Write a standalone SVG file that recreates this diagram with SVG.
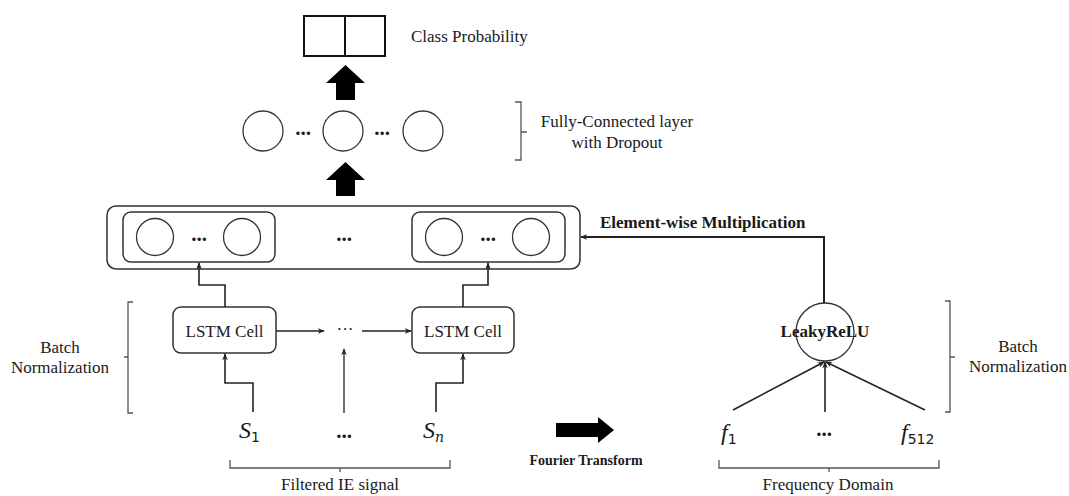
<svg xmlns="http://www.w3.org/2000/svg" width="1069" height="496" viewBox="0 0 1069 496">
<defs>
<style>
text{font-family:'Liberation Serif',serif}
.t{font-family:'Liberation Serif',serif;font-size:17px;fill:#1a1a1a}
.b{font-weight:bold}
.m{font-family:'Liberation Serif',serif;font-style:italic;font-size:24px;fill:#1a1a1a}
.sub{font-family:'DejaVu Sans',sans-serif;font-size:14px}
.box{fill:#fff;stroke:#333;stroke-width:1.5}
.c{fill:#fff;stroke:#333;stroke-width:1.3}
.ln{fill:none;stroke:#222;stroke-width:1.6}
.br{fill:none;stroke:#555;stroke-width:1.3}
.dots{font-family:'Liberation Serif',serif;font-size:21px;font-weight:bold;fill:#1a1a1a;text-anchor:middle}
</style>
<marker id="ah" viewBox="0 0 10 10" refX="9" refY="5" markerWidth="7" markerHeight="7" markerUnits="userSpaceOnUse" orient="auto">
<path d="M0,1 L10,5 L0,9 L3,5 z" fill="#222"/>
</marker>
</defs>
<rect width="1069" height="496" fill="#fff"/>

<g id="class-prob">
<rect x="304" y="16" width="81" height="40" fill="#fff" stroke="#111" stroke-width="2"/>
<line x1="345" y1="16" x2="345" y2="56" stroke="#111" stroke-width="2"/>
<text class="t" x="411" y="42">Class Probability</text>
</g>

<g id="fc-layer">
<circle class="c" cx="263" cy="131" r="20"/>
<circle class="c" cx="343" cy="131" r="20"/>
<circle class="c" cx="423" cy="131" r="20"/>
<text class="dots" x="303" y="135">...</text>
<text class="dots" x="382" y="135">...</text>
<path class="br" d="M515,102 H521 V160 H515 M521,132 H527"/>
<text class="t" x="617" y="127" text-anchor="middle">Fully-Connected layer</text>
<text class="t" x="617" y="148" text-anchor="middle">with Dropout</text>
</g>

<g id="lstm-output">
<rect class="box" x="107" y="206" width="473" height="63" rx="9"/>
<rect class="box" x="123" y="212" width="152" height="50" rx="8"/>
<rect class="box" x="412" y="212" width="153" height="50" rx="8"/>
<circle class="c" cx="155" cy="237" r="18.5"/>
<circle class="c" cx="242" cy="237" r="18.5"/>
<circle class="c" cx="444" cy="237" r="18.5"/>
<circle class="c" cx="531" cy="237" r="18.5"/>
<text class="dots" x="199" y="241">...</text>
<text class="dots" x="344" y="241">...</text>
<text class="dots" x="488" y="241">...</text>
</g>

<g id="lstm-1">
<rect class="box" x="173" y="307" width="103" height="46" rx="8"/>
<text class="t" x="224.5" y="337" text-anchor="middle">LSTM Cell</text>
</g>
<g id="lstm-n">
<rect class="box" x="412" y="307" width="102" height="46" rx="8"/>
<text class="t" x="463" y="337" text-anchor="middle">LSTM Cell</text>
</g>
<text class="t" x="345" y="335" text-anchor="middle" font-size="16">···</text>

<g id="inputs">
<text class="m" x="239" y="438">S<tspan class="sub" dy="4" style="font-style:normal">1</tspan></text>
<text class="dots" x="344" y="438">...</text>
<text class="m" x="423" y="438">S<tspan class="sub" dy="4" style="font-style:italic;font-family:'DejaVu Serif',serif">n</tspan></text>
<path class="br" d="M230,460 V468 H450 V460 M340,468 V472"/>
<text class="t" x="340" y="490" text-anchor="middle">Filtered IE signal</text>
<path class="br" d="M133,302 H128 V413 H133 M128,357 H124"/>
<text class="t" x="60" y="353" text-anchor="middle">Batch</text>
<text class="t" x="60" y="373" text-anchor="middle">Normalization</text>
</g>

<g id="fourier">
<path d="M556,423 H598 V417 L614,430 L598,443 V437 H556 Z" fill="#000"/>
<text class="t b" x="586" y="465" text-anchor="middle" style="font-size:14px">Fourier Transform</text>
</g>

<g id="leakyrelu">
<circle class="c" cx="825" cy="332" r="29"/>
<text class="t b" x="825" y="337" text-anchor="middle">LeakyReLU</text>
</g>

<g id="freq">
<text class="m" x="721" y="440">f<tspan class="sub" dy="4" style="font-style:normal">1</tspan></text>
<text class="dots" x="824" y="436">...</text>
<text class="m" x="901" y="440">f<tspan class="sub" dy="4" style="font-style:normal">512</tspan></text>
<path class="br" d="M719,460 V468 H939 V460 M829,468 V472"/>
<text class="t" x="828" y="490" text-anchor="middle">Frequency Domain</text>
<path class="br" d="M945,301 H950 V412 H945 M950,357 H955"/>
<text class="t" x="1018" y="352" text-anchor="middle">Batch</text>
<text class="t" x="1018" y="372" text-anchor="middle">Normalization</text>
</g>

<g id="connectors">
<path d="M336,100 V83 H326 L345.5,65 L365,83 H355 V100 Z" fill="#000"/>
<path d="M336,196 V180 H326 L345.5,162 L365,180 H355 V196 Z" fill="#000"/>
<path class="ln" d="M225,307 V285 H199 V263" marker-end="url(#ah)"/>
<path class="ln" d="M463,307 V285 H488 V263" marker-end="url(#ah)"/>
<path class="ln" d="M253,412 V383 H225 V354" marker-end="url(#ah)"/>
<path class="ln" d="M436,412 V383 H463 V354" marker-end="url(#ah)"/>
<path class="ln" d="M276,331 H324" marker-end="url(#ah)" style="stroke-width:1.3"/>
<path class="ln" d="M362,331 H411" marker-end="url(#ah)" style="stroke-width:1.3"/>
<path class="ln" d="M344,413 V349" marker-end="url(#ah)" style="stroke-width:1.3"/>
<path class="ln" d="M824,303 V237 H581" marker-end="url(#ah)" style="stroke-width:2"/>
<text class="t b" x="600" y="228">Element-wise Multiplication</text>
<path class="ln" d="M733,410 L824,362" marker-end="url(#ah)"/>
<path class="ln" d="M825,412 V362" marker-end="url(#ah)"/>
<path class="ln" d="M925,410 L826,362" marker-end="url(#ah)"/>
</g>
</svg>
